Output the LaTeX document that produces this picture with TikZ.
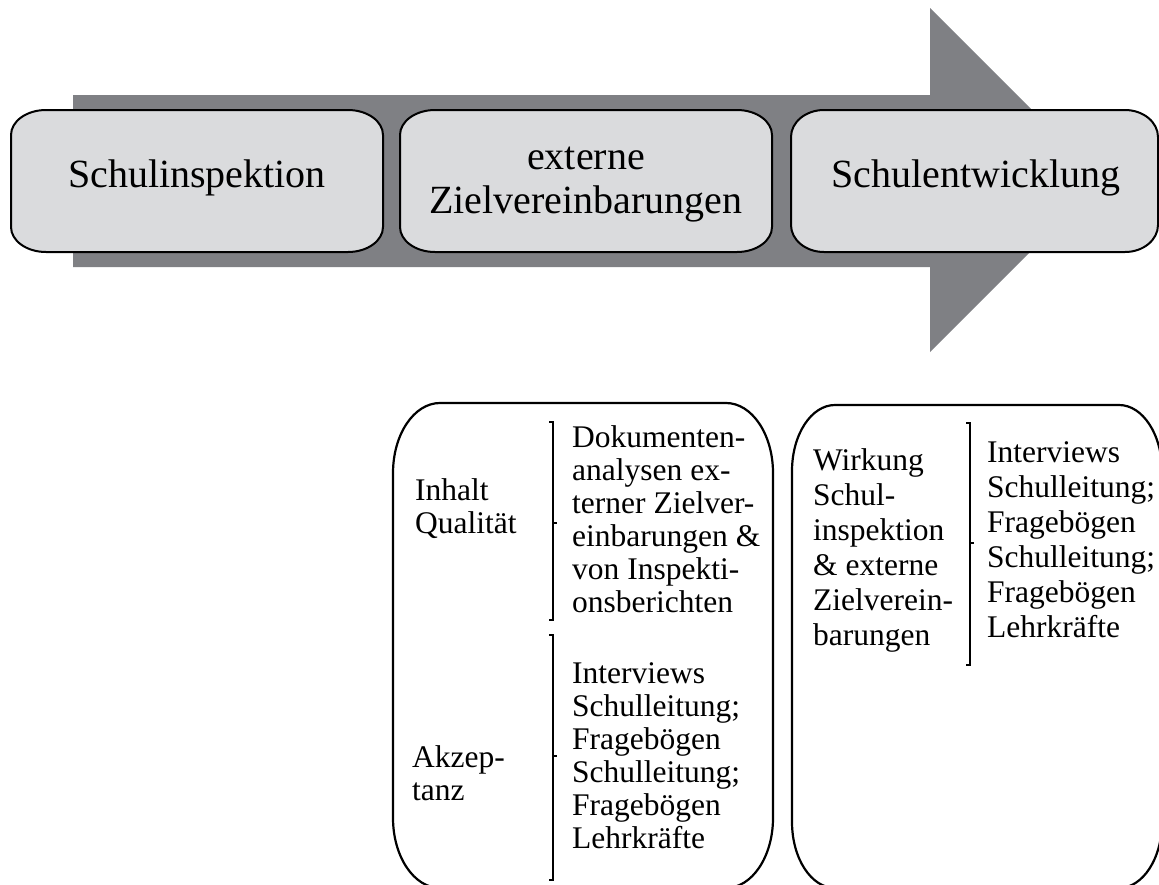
\documentclass[tikz,border=0pt]{standalone}
\usepackage{fontspec}
\setmainfont{Liberation Serif}
\definecolor{arrowgray}{RGB}{127,128,132}
\definecolor{boxfill}{RGB}{218,219,221}
% elliptical rounded box in y-down pixel coordinates
% #1 style, #2 left, #3 top, #4 right, #5 bottom, #6 rx, #7 ry
\newcommand{\eroundbox}[7]{%
  \path[#1] (#2,{#3+#7}) arc[start angle=180,end angle=270,x radius=#6,y radius=#7]
    -- ({#4-#6},#3) arc[start angle=270,end angle=360,x radius=#6,y radius=#7]
    -- (#4,{#5-#7}) arc[start angle=0,end angle=90,x radius=#6,y radius=#7]
    -- ({#2+#6},#5) arc[start angle=90,end angle=180,x radius=#6,y radius=#7]
    -- cycle;}
\begin{document}
\begin{tikzpicture}[x=1pt,y=-1pt,
  topbox/.style={draw=black,fill=boxfill,line width=2pt},
  lowbox/.style={draw=black,line width=2.2pt},
  bigtext/.style={inner sep=0pt,font=\fontsize{40}{44}\selectfont},
  smalltext/.style={inner sep=0pt,anchor=north west,align=left,font=\fontsize{31.5}{33}\selectfont},
  smalltextB/.style={inner sep=0pt,anchor=north west,align=left,font=\fontsize{31.5}{35}\selectfont},
  brack/.style={draw=black,line width=1.5pt}]
\useasboundingbox (0,0) rectangle (1159,884);
\clip (0,0) rectangle (1159,884);
% big arrow
\fill[arrowgray] (73,95) -- (930,95) -- (930,8) -- (1102,180) -- (930,352) -- (930,267) -- (73,267) -- cycle;
% top boxes
\eroundbox{topbox}{11}{110}{383}{252}{35}{25}
\eroundbox{topbox}{400}{110}{772}{252}{35}{25}
\eroundbox{topbox}{791}{110}{1158}{252}{33}{27}
\node[bigtext,anchor=base] (t1) at (197,187) {Schulinspektion};
\node[bigtext,anchor=north,align=center] (t2) at (586,139) {\rule{0pt}{30pt}externe\\Zielvereinbarungen};
\node[bigtext,anchor=base] (t3) at (976,187) {Schulentwicklung};
% lower boxes
\eroundbox{lowbox}{393}{403}{773}{888}{47}{70}
\eroundbox{lowbox}{792}{405}{1162}{888}{43}{66}
% box A texts
\node[smalltext] (ainh) at (415,{500-23.6}) {\rule{0pt}{23.6pt}Inhalt\\Qualität};
\node[smalltext] (adok) at (572,{447-23.6}) {\rule{0pt}{23.6pt}Dokumenten-\\analysen ex-\\terner Zielver-\\einbarungen \&\\von Inspekti-\\onsberichten};
\node[smalltext] (aakz) at (412,{767-23.6}) {\rule{0pt}{23.6pt}Akzep-\\tanz};
\node[smalltext] (aint) at (572,{683-23.6}) {\rule{0pt}{23.6pt}Interviews\\Schulleitung;\\Fragebögen\\Schulleitung;\\Fragebögen\\Lehrkräfte};
% box B texts
\node[smalltextB] (bwir) at (813,{470-23.6}) {\rule{0pt}{23.6pt}Wirkung\\Schul-\\inspektion\\\& externe\\Zielverein-\\barungen};
\node[smalltextB] (bint) at (987,{462-23.6}) {\rule{0pt}{23.6pt}Interviews\\Schulleitung;\\Fragebögen\\Schulleitung;\\Fragebögen\\Lehrkräfte};
% brackets
\draw[brack] (549,422) -- (553,422) -- (553,620) -- (549,620);
\draw[brack] (553,523) -- (557,523);
\draw[brack] (549,635) -- (553,635) -- (553,880) -- (549,880);
\draw[brack] (553,756) -- (557,756);
\draw[brack] (966,423) -- (970,423) -- (970,665) -- (966,665);
\draw[brack] (970,543) -- (974,543);
\end{tikzpicture}
\end{document}
